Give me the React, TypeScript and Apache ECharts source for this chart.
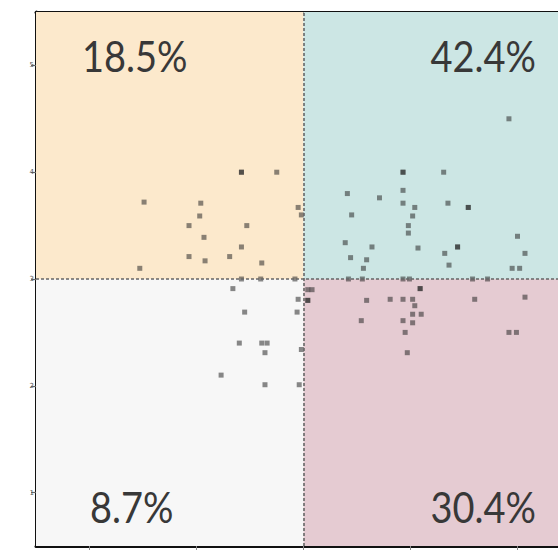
import React, { useEffect, useRef } from "react";
import * as echarts from "echarts";

// axis ranges and quadrant split
const xRange = [0.5, 5.5];
const yRange = [0.5, 5.5];
const splitX = 3;
const splitY = 3;
const tickValues = [1, 2, 3, 4, 5];

// quadrant labels: top-left, top-right, bottom-left, bottom-right
const quadrantLabels = ["18.5%", "42.4%", "8.7%", "30.4%"];
const quadrantColors = ["#fce9cc", "#cce6e4", "#f7f7f7", "#e5cbd2"];

// scatter points
const xValues = [
  1.51, 2.04, 2.03, 1.93, 2.07, 1.93, 2.08, 1.47, 2.42, 2.42, 2.75, 2.95, 2.98, 2.47, 2.42, 2.31, 2.61,
  2.42, 2.6, 2.92,
  2.34, 2.45, 2.95, 2.94, 2.4, 2.61, 2.66, 2.64, 2.98, 2.23, 2.64, 2.96,
  3.04, 3.08, 3.04, 3.04,
  4.92, 3.93, 3.93, 4.31, 3.41, 3.71, 3.45, 3.93, 3.93, 4.04, 4.35, 4.54, 4.54, 4.02, 3.98, 3.98, 5.0,
  4.07, 4.32, 4.44, 4.44, 5.07, 4.36, 4.95, 5.02, 3.39, 3.64, 3.44, 3.59, 3.56,
  3.42, 3.55, 3.93, 3.99, 4.58, 4.72,
  4.09, 4.09, 3.93, 4.02, 4.6, 5.07, 4.04, 4.02, 4.1, 3.93, 4.02, 3.95, 4.92, 4.99, 3.97, 3.59, 3.54, 3.81,
];
const yValues = [
  3.72, 3.71, 3.59, 3.5, 3.39, 3.21, 3.17, 3.1, 4.0, 4.0, 4.0, 3.67, 3.6, 3.5, 3.3, 3.21, 3.15,
  3.0, 3.0, 3.0,
  2.91, 2.69, 2.81, 2.69, 2.4, 2.4, 2.4, 2.31, 2.34, 2.1, 2.01, 2.01,
  2.9, 2.9, 2.8, 2.8,
  4.5, 4.0, 4.0, 4.0, 3.8, 3.76, 3.6, 3.83, 3.71, 3.67, 3.71, 3.67, 3.67, 3.59, 3.5, 3.43, 3.4,
  3.29, 3.24, 3.3, 3.3, 3.24, 3.13, 3.1, 3.1, 3.34, 3.3, 3.2, 3.18, 3.1,
  3.0, 3.0, 3.0, 3.0, 3.0, 3.0,
  2.91, 2.91, 2.81, 2.81, 2.81, 2.83, 2.75, 2.67, 2.67, 2.61, 2.59, 2.5, 2.5, 2.5, 2.31, 2.8, 2.61, 2.81,
];

export default function App() {
  const ref = useRef<HTMLDivElement>(null);

  useEffect(() => {
    if (!ref.current) return;
    const chart = echarts.init(ref.current, null, { renderer: "svg" });
    const points = xValues.map((x, i) => [x, yValues[i]]);

    const textFont = "Lato, 'Open Sans', sans-serif";
    const labelStyle = (text: string, align: string) => ({
      text,
      fontSize: 38,
      fontFamily: textFont,
      fill: "#383838",
      align,
      verticalAlign: "middle",
    });

    chart.setOption({
      animation: false,
      backgroundColor: "#ffffff",
      grid: { left: 36, top: 12, right: 0, bottom: 4, containLabel: false },
      xAxis: [
        {
          type: "value",
          min: xRange[0],
          max: xRange[1],
          position: "bottom",
          axisLine: { show: true, onZero: false, lineStyle: { color: "#111", width: 3 } },
          axisTick: { show: true, length: 4, customValues: tickValues, lineStyle: { color: "#888", width: 1 } },
          axisLabel: { show: false },
          splitLine: { show: false },
        },
        {
          type: "value",
          min: xRange[0],
          max: xRange[1],
          position: "top",
          axisLine: { show: true, onZero: false, lineStyle: { color: "#111", width: 3 } },
          axisTick: { show: false },
          axisLabel: { show: false },
          splitLine: { show: false },
        },
      ],
      yAxis: {
        type: "value",
        min: yRange[0],
        max: yRange[1],
        axisLine: { show: true, onZero: false, lineStyle: { color: "#111", width: 3 } },
        axisTick: { show: true, length: 5, customValues: tickValues, lineStyle: { color: "#666", width: 1.2 } },
        axisLabel: {
          show: true,
          customValues: tickValues,
          fontSize: 7,
          color: "#555",
          margin: 2,
          fontFamily: "DejaVu Sans",
        },
        splitLine: { show: false },
      },
      series: [
        {
          type: "scatter",
          data: [],
          z: 1,
          silent: true,
          markArea: {
            silent: true,
            data: [
              [
                { xAxis: xRange[0], yAxis: yRange[1], itemStyle: { color: quadrantColors[0] } },
                { xAxis: splitX, yAxis: splitY },
              ],
              [
                { xAxis: splitX, yAxis: yRange[1], itemStyle: { color: quadrantColors[1] } },
                { xAxis: xRange[1], yAxis: splitY },
              ],
              [
                { xAxis: xRange[0], yAxis: splitY, itemStyle: { color: quadrantColors[2] } },
                { xAxis: splitX, yAxis: yRange[0] },
              ],
              [
                { xAxis: splitX, yAxis: splitY, itemStyle: { color: quadrantColors[3] } },
                { xAxis: xRange[1], yAxis: yRange[0] },
              ],
            ],
          },
        },
        {
          type: "scatter",
          data: [],
          z: 2,
          silent: true,
          markLine: {
            silent: true,
            symbol: "none",
            label: { show: false },
            lineStyle: { color: "#666", width: 1.6, type: [3, 2] },
            data: [{ xAxis: splitX }, { yAxis: splitY }],
          },
        },
        {
          type: "scatter",
          z: 3,
          data: points,
          symbol: "rect",
          symbolSize: 5,
          itemStyle: { color: "rgba(40,40,40,0.68)" },
        },
      ],
      graphic: [
        { type: "text", x: 82, y: 56, scaleY: 1.12, z: 10, style: labelStyle(quadrantLabels[0], "left") },
        { type: "text", x: 536, y: 56, scaleY: 1.12, z: 10, style: labelStyle(quadrantLabels[1], "right") },
        { type: "text", x: 90, y: 507, scaleY: 1.12, z: 10, style: labelStyle(quadrantLabels[2], "left") },
        { type: "text", x: 536, y: 507, scaleY: 1.12, z: 10, style: labelStyle(quadrantLabels[3], "right") },
      ],
    });

    return () => chart.dispose();
  }, []);

  return (
    <div
      style={{
        position: "fixed",
        left: 0,
        top: 0,
        width: 558,
        height: 550,
        overflow: "hidden",
        background: "#fff",
      }}
    >
      <div ref={ref} style={{ width: 571, height: 550 }} />
    </div>
  );
}
